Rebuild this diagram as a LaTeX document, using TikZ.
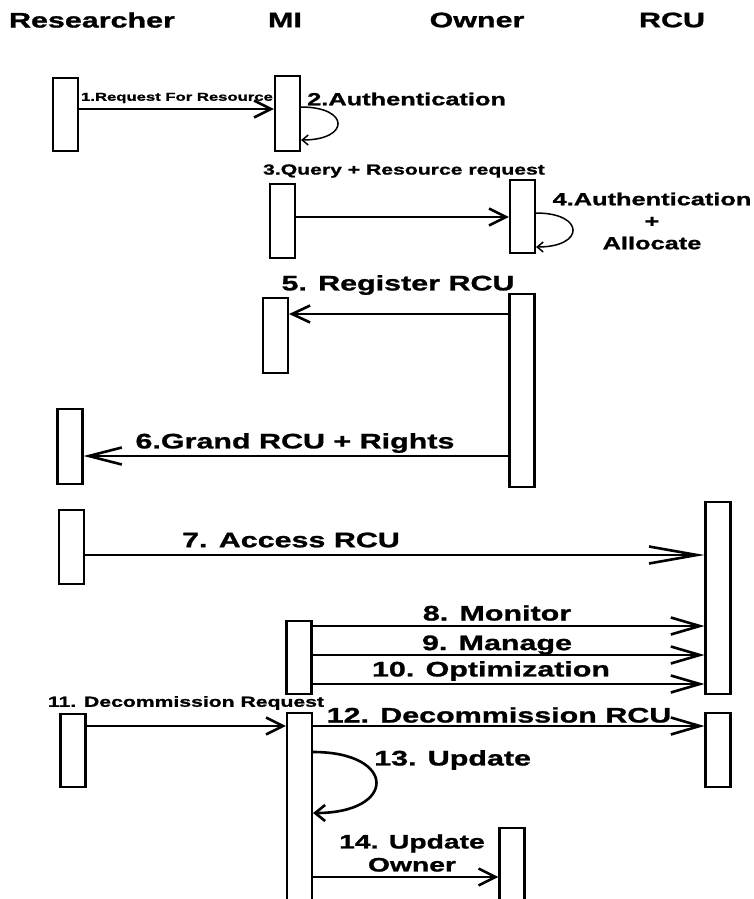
\documentclass[tikz,border=0pt]{standalone}
\usepackage{fontspec}
\newfontfamily\seqfont{Liberation Sans}[FakeStretch=1.45, FakeBold=1.2]
\usetikzlibrary{arrows.meta}
\tikzset{
  bar/.style={rectangle, draw, fill=white, line width=2.1pt,
    minimum width=25pt, inner sep=0pt, anchor=north},
  hdr/.style={font=\seqfont\bfseries\fontsize{21}{24}\selectfont, inner sep=0pt},
  biglbl/.style={font=\seqfont\bfseries\fontsize{21}{23}\selectfont, inner sep=0pt, align=center},
  midlbl/.style={font=\seqfont\bfseries\fontsize{17.5}{22}\selectfont, inner sep=0pt, align=center},
  smalllbl/.style={font=\seqfont\bfseries\fontsize{14.6}{17}\selectfont, inner sep=0pt},
  tinylbl/.style={font=\seqfont\bfseries\fontsize{11.5}{13}\selectfont, inner sep=0pt},
  msg/.style={line width=2.6pt, -{Straight Barb[length=#1, width=17pt]}},
  msg/.default=17pt,
  selfarrow/.style={line width=1.5pt, -{Straight Barb[length=6pt, width=10pt]}}
}

\begin{document}
\begin{tikzpicture}[x=1pt, y=-1pt]
  \useasboundingbox (0,0) rectangle (754,899);

  % Lifeline headers
  \node[hdr] (hres) at (92,20) {Researcher};
  \node[hdr] (hmi) at (285,20) {MI};
  \node[hdr] (hown) at (477,20) {Owner};
  \node[hdr] (hrcu) at (672,20) {RCU};

  % Activation bars
  \node[bar, minimum height=73pt] (res1) at (65.5,77) {};
  \node[bar, minimum height=75pt] (mi1) at (287.5,75) {};
  \node[bar, minimum height=74pt] (mi2) at (282.5,183) {};
  \node[bar, minimum height=73pt] (own1) at (522.5,179) {};
  \node[bar, minimum height=75pt] (mi3) at (275.5,297) {};
  \node[bar, minimum height=193pt] (own2) at (522,293) {};
  \node[bar, minimum height=75pt] (res2) at (70,408) {};
  \node[bar, minimum height=74pt] (res3) at (71.5,509) {};
  \node[bar, minimum height=192pt] (rcu1) at (718,501) {};
  \node[bar, minimum height=73pt] (mi4) at (299,620) {};
  \node[bar, minimum height=73pt] (res4) at (73,713) {};
  \node[bar, minimum height=200pt] (mi5) at (299.5,712) {};
  \node[bar, minimum height=74pt] (rcu2) at (718,712) {};
  \node[bar, minimum height=85pt] (own3) at (512,827) {};

  % Message levels
  \coordinate (y1) at (0,109);
  \coordinate (y2a) at (0,107);
  \coordinate (y2b) at (0,140);
  \coordinate (y3) at (0,217);
  \coordinate (y4a) at (0,213);
  \coordinate (y4b) at (0,247);
  \coordinate (y5) at (0,314);
  \coordinate (y6) at (0,456);
  \coordinate (y7) at (0,555);
  \coordinate (y8) at (0,626);
  \coordinate (y9) at (0,655);
  \coordinate (y10) at (0,684);
  \coordinate (y11) at (0,726);
  \coordinate (y13a) at (0,752);
  \coordinate (y13b) at (0,813);
  \coordinate (y14) at (0,877);

  % Messages
  \draw[msg] (res1.east |- y1) -- (mi1.west |- y1);
  \draw[selfarrow] (mi1.east |- y2a) .. controls +(49,0) and +(49,0) .. (mi1.east |- y2b);
  \draw[msg] (mi2.east |- y3) -- (own1.west |- y3);
  \draw[selfarrow] (own1.east |- y4a) .. controls +(49,0) and +(49,0) .. (own1.east |- y4b);
  \draw[msg=18pt] (own2.west |- y5) -- (mi3.east |- y5);
  \draw[msg=33pt] (own2.west |- y6) -- (res2.east |- y6);
  \draw[msg=48pt] (res3.east |- y7) -- (rcu1.west |- y7);
  \draw[msg=29pt] (mi4.east |- y8) -- (rcu1.west |- y8);
  \draw[msg=29pt] (mi4.east |- y9) -- (rcu1.west |- y9);
  \draw[msg=29pt] (mi4.east |- y10) -- (rcu1.west |- y10);
  \draw[msg] (res4.east |- y11) -- (mi5.west |- y11);
  \draw[msg=29pt] (mi5.east |- y11) -- (rcu2.west |- y11);
  \draw[line width=2.6pt, -{Straight Barb[length=10pt, width=16pt]}]
    (mi5.east |- y13a) .. controls +(84,0) and +(84,0) .. (mi5.east |- y13b);
  \draw[msg] (mi5.east |- y14) -- (own3.west |- y14);

  % Labels
  \node[tinylbl] (l1) at (177,98) {1.Request For Resource};
  \node[midlbl, anchor=west] (l2) at (307,99) {2.Authentication};
  \node[smalllbl] (l3) at (404,171) {3.Query + Resource request};
  \node[midlbl] (l4) at (652,221) {4.Authentication\\+\\Allocate};
  \node[biglbl] (l5) at (398,285) {5. Register RCU};
  \node[biglbl] (l6) at (295,443) {6.Grand RCU + Rights};
  \node[biglbl] (l7) at (291,540) {7. Access RCU};
  \node[biglbl] (l8) at (497,613) {8. Monitor};
  \node[biglbl] (l9) at (497,645) {9. Manage};
  \node[biglbl] (l10) at (491,671) {10. Optimization};
  \node[smalllbl] (l11) at (186,703) {11. Decommission Request};
  \node[biglbl] (l12) at (499,715) {12. Decommission RCU};
  \node[biglbl, anchor=west] (l13) at (374,760) {13. Update};
  \node[biglbl, font=\seqfont\bfseries\fontsize{19.5}{23}\selectfont] (l14) at (412,853) {14. Update\\Owner};
\end{tikzpicture}
\end{document}
